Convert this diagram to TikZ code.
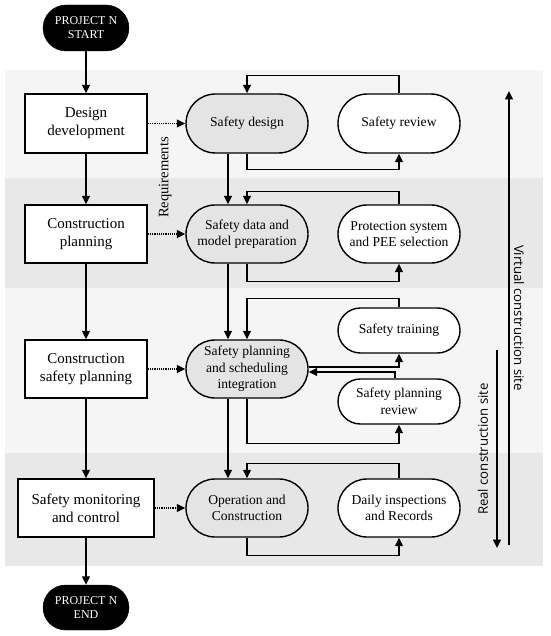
\documentclass[tikz,border=0pt]{standalone}
\usepackage{fontspec}
\setmainfont{Liberation Serif}
\newfontfamily\sidefont{Open Sans}
\usetikzlibrary{arrows.meta}
\definecolor{bandlight}{HTML}{F5F5F5}
\definecolor{banddark}{HTML}{E8E8E8}
\definecolor{stadgray}{HTML}{E4E4E4}
\tikzset{
  arr/.style={-{Triangle[length=8.5pt,width=8pt]}, line width=1.3pt},
  dotarr/.style={-{Triangle[length=8.5pt,width=8pt]}, line width=1.2pt, densely dotted},
  procbox/.style={draw, line width=1.4pt, fill=white, minimum width=122pt, minimum height=59pt, inner sep=0pt, align=center, font=\fontsize{15}{18}\selectfont},
  stadium/.style={draw, line width=1.4pt, rounded corners=29.5pt, minimum width=122pt, minimum height=59pt, inner sep=0pt, align=center, font=\fontsize{13.6}{16.5}\selectfont},
  smallstad/.style={stadium, rounded corners=22.5pt, minimum height=45pt, fill=white},
  terminal/.style={draw, fill=black, text=white, rounded corners=23pt, minimum width=86pt, minimum height=46pt, inner sep=0pt, align=center, font=\fontsize{12}{14}\selectfont},
  sidelabel/.style={font=\sidefont\fontsize{13.2}{15}\selectfont, inner sep=0pt}
}
\begin{document}
\begin{tikzpicture}[x=1pt,y=-1pt]
\useasboundingbox (0,0) rectangle (550,636);
% bands
\fill[bandlight] (5,70) rectangle (543,178);
\fill[banddark] (5,178) rectangle (543,288);
\fill[bandlight] (5,288) rectangle (543,453);
\fill[banddark] (5,453) rectangle (543,566);
% left column
\node[terminal] (start) at (86,28) {PROJECT N\\START};
\node[procbox] (dd) at (86,123.5) {Design\\development};
\node[procbox, minimum height=58pt] (cp) at (86,234) {Construction\\planning};
\node[procbox, minimum height=58pt] (csp) at (86,369) {Construction\\safety planning};
\node[procbox, minimum width=136pt, minimum height=58pt] (smc) at (86,508) {Safety monitoring\\and control};
\node[terminal, minimum height=45pt, rounded corners=22.5pt] (end) at (86,607.5) {PROJECT N\\END};
% middle column
\node[stadium, fill=stadgray] (sd) at (247,123.5) {Safety design};
\node[stadium, fill=stadgray, minimum height=58pt, rounded corners=29pt] (sdm) at (247,234) {Safety data and\\model preparation};
\node[stadium, fill=stadgray, minimum height=58pt, rounded corners=29pt] (spi) at (247,369) {Safety planning\\and scheduling\\integration};
\node[stadium, fill=stadgray, minimum height=58pt, rounded corners=29pt] (oc) at (247,508) {Operation and\\Construction};
% right column
\node[stadium, fill=white] (sr) at (399,123.5) {Safety review};
\node[stadium, fill=white, minimum height=58pt, rounded corners=29pt] (ps) at (399,234) {Protection system\\and PEE selection};
\node[smallstad] (st) at (399,330.5) {Safety training};
\node[smallstad] (spr) at (399,401.5) {Safety planning\\review};
\node[stadium, fill=white, minimum height=58pt, rounded corners=29pt] (di) at (399,508) {Daily inspections\\and Records};
% main flow
\draw[arr] (start) -- (dd);
\draw[arr] (dd) -- (cp);
\draw[arr] (cp) -- (csp);
\draw[arr] (csp) -- (smc);
\draw[arr] (smc) -- (end);
\draw[arr] ([xshift=-19pt]sd.south) -- ([xshift=-19pt]sdm.north);
\draw[arr] ([xshift=-19pt]sdm.south) -- ([xshift=-19pt]spi.north);
\draw[arr] ([xshift=-19pt]spi.south) -- ([xshift=-19pt]oc.north);
% dotted requirements
\draw[dotarr] (dd) -- (sd);
\draw[dotarr] (cp) -- (sdm);
\draw[dotarr] (csp) -- (spi);
\draw[dotarr] (smc) -- (oc);
% loops
\draw[arr] (sr.north) -- ++(0,-18) -| (sd.north);
\draw[arr] (sd.south) -- ++(0,16) -| (sr.south);
\draw[arr] (ps.north) -- ++(0,-13) -| (sdm.north);
\draw[arr] (sdm.south) -- ++(0,18) -| (ps.south);
\draw[arr] (st.north) -- ++(0,-9) -| (spi.north);
\draw[arr] (spi.south) -- ++(0,45) -| (spr.south);
\draw[arr] ([yshift=2pt]spi.east) -| (st.south);
\draw[arr] ([xshift=-4pt]spr.north) |- ([yshift=-3pt]spi.east);
\draw[arr] (di.north) -- ++(0,-15) -| (oc.north);
\draw[arr] (oc.south) -- ++(0,18) -| (di.south);
% side labels
\node[font=\fontsize{14.5}{16}\selectfont, rotate=90, inner sep=0pt] (req) at (165,177.5) {Requirements};
\coordinate (vbot) at (509,545);
\coordinate (vtop) at (509,91);
\draw[arr] (vbot) -- (vtop);
\node[sidelabel, rotate=-90] (vcs) at (519,318) {Virtual construction site};
\coordinate (rtop) at (497,350);
\coordinate (rbot) at (497,548);
\draw[arr] (rtop) -- (rbot);
\node[sidelabel, rotate=90] (rcs) at (483,449) {Real construction site};
\end{tikzpicture}
\end{document}
